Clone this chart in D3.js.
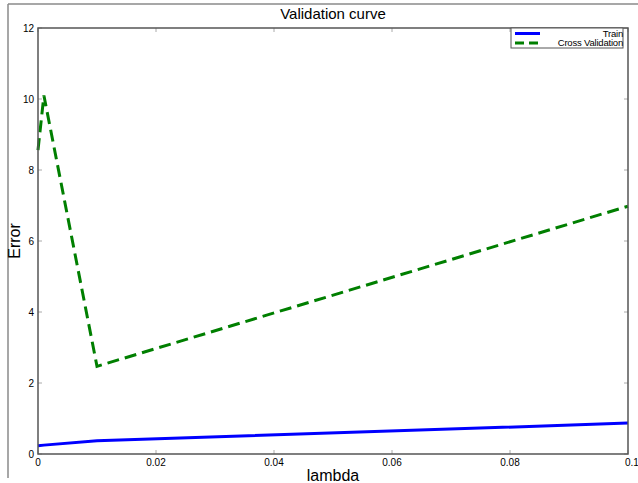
<!DOCTYPE html>
<html>
<head>
<meta charset="utf-8">
<script src="https://cdn.jsdelivr.net/npm/d3@7"></script>
<style>
  body { margin: 0; background: #fff; }
  text { font-family: "Liberation Sans", Arial, sans-serif; }
</style>
</head>
<body>
<div id="chart"></div>
<script>
// lambda values and errors
const lambdas = [0, 0.001, 0.01, 0.1];
const trainErr = [0.23, 0.25, 0.37, 0.87];
const cvErr = [8.56, 10.1, 2.47, 6.98];
const xTicks = [0, 0.02, 0.04, 0.06, 0.08, 0.1];
const yTicks = [0, 2, 4, 6, 8, 10, 12];
const seriesNames = ["Train", "Cross Validation"];

const w = 638, h = 483;
const padL = 38, padR = 628, padT = 28, padB = 454;

const svg = d3.select("#chart")
  .append("svg")
  .attr("width", w)
  .attr("height", h);

// window frame edges
svg.append("line").attr("x1", 8).attr("x2", w).attr("y1", 4).attr("y2", 4)
  .attr("stroke", "#8a8a8a").attr("stroke-width", 1.5);
svg.append("line").attr("x1", 8).attr("x2", 8).attr("y1", 4).attr("y2", 478)
  .attr("stroke", "#8a8a8a").attr("stroke-width", 1.5);

const xScale = d3.scaleLinear().domain([0, 0.1]).range([padL, padR]);
const yScale = d3.scaleLinear().domain([0, 12]).range([padB, padT]);

// ticks (inward, both sides)
const tickG = svg.append("g").attr("stroke", "#aaa").attr("stroke-width", 1);
xTicks.forEach(t => {
  tickG.append("line").attr("x1", xScale(t)).attr("x2", xScale(t)).attr("y1", padB).attr("y2", padB - 4);
  tickG.append("line").attr("x1", xScale(t)).attr("x2", xScale(t)).attr("y1", padT).attr("y2", padT + 4);
});
yTicks.forEach(t => {
  tickG.append("line").attr("x1", padL).attr("x2", padL + 4).attr("y1", yScale(t)).attr("y2", yScale(t));
  tickG.append("line").attr("x1", padR).attr("x2", padR - 4).attr("y1", yScale(t)).attr("y2", yScale(t));
});

// tick labels
svg.append("g").selectAll("text")
  .data(xTicks).enter().append("text")
  .attr("x", d => xScale(d))
  .attr("y", padB + 12)
  .attr("text-anchor", d => d === 0.1 ? "start" : "middle")
  .attr("dx", d => d === 0.1 ? -3 : 0)
  .attr("font-size", 10)
  .text(d => d === 0 ? "0" : d3.format("")(d));

svg.append("g").selectAll("text")
  .data(yTicks).enter().append("text")
  .attr("x", padL - 4)
  .attr("y", d => yScale(d) + 4)
  .attr("text-anchor", "end")
  .attr("font-size", 10)
  .text(d => d);

// lines
const line = (vals) => d3.line()
  .x((d, i) => xScale(lambdas[i]))
  .y(d => yScale(d))(vals);

svg.append("path")
  .attr("d", line(trainErr))
  .attr("fill", "none")
  .attr("stroke", "#0000ff")
  .attr("stroke-width", 3);

svg.append("path")
  .attr("d", line(cvErr))
  .attr("fill", "none")
  .attr("stroke", "#007f00")
  .attr("stroke-width", 3)
  .attr("stroke-dasharray", "12,6");

// frame
svg.append("rect")
  .attr("x", padL).attr("y", padT)
  .attr("width", padR - padL).attr("height", padB - padT)
  .attr("fill", "none")
  .attr("stroke", "#555")
  .attr("stroke-width", 1.5);

// title and axis labels
svg.append("text").attr("x", (padL + padR) / 2).attr("y", 19)
  .attr("text-anchor", "middle").attr("font-size", 15).text("Validation curve");
svg.append("text").attr("x", (padL + padR) / 2).attr("y", 481)
  .attr("text-anchor", "middle").attr("font-size", 16).text("lambda");
svg.append("text")
  .attr("transform", "translate(20," + ((padT + padB) / 2) + ") rotate(-90)")
  .attr("text-anchor", "middle").attr("font-size", 16).text("Error");

// legend
const lg = svg.append("g");
lg.append("rect").attr("x", 511).attr("y", 28).attr("width", 112).attr("height", 20)
  .attr("fill", "#fff").attr("stroke", "#555").attr("stroke-width", 1);
const legColors = ["#0000ff", "#007f00"];
const legDash = [null, "9,5"];
seriesNames.forEach((name, i) => {
  const y = 33.5 + i * 9.5;
  lg.append("line").attr("x1", 515).attr("x2", 540).attr("y1", y).attr("y2", y)
    .attr("stroke", legColors[i]).attr("stroke-width", 3)
    .attr("stroke-dasharray", legDash[i]);
  lg.append("text").attr("x", 623).attr("y", y + 3.2)
    .attr("text-anchor", "end").attr("font-size", 9.5)
    .attr("letter-spacing", -0.2).text(name);
});
</script>
</body>
</html>
